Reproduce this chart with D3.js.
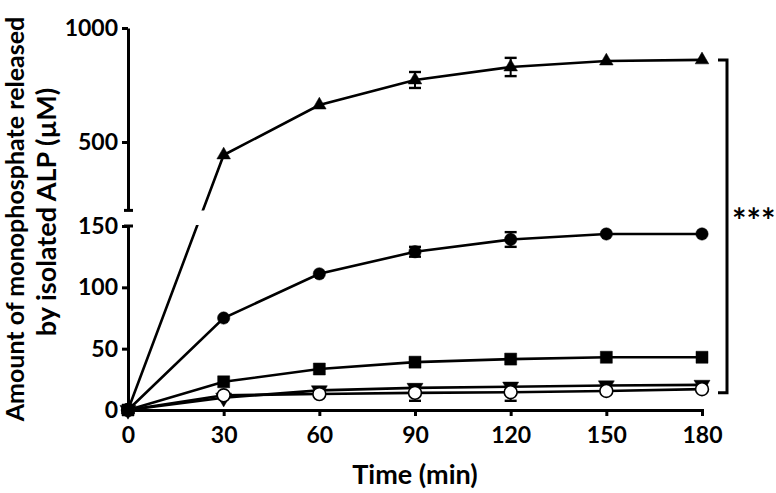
<!DOCTYPE html>
<html>
<head>
<meta charset="utf-8">
<script src="https://cdn.jsdelivr.net/npm/d3@7"></script>
<style>
  body { margin: 0; background: #fff; }
  text { font-family: Lato, "Open Sans", sans-serif; font-weight: bold; fill: #000; }
</style>
</head>
<body>
<script>
var svg_width = 776;
var svg_height = 493;

// data
var times = [0, 30, 60, 90, 120, 150, 180];
var xTicks = [0, 30, 60, 90, 120, 150, 180];
var upperTicks = [500, 1000];
var lowerTicks = [0, 50, 100, 150];

var triUp = [0, 443, 662, 772, 829, 855, 860];
var triUpErr = [0, 0, 0, 35, 40, 0, 0];
var circleFilled = [0, 75, 111, 129, 139, 143.5, 143.5];
var circleFilledErr = [0, 0, 0, 4, 6, 0, 0];
var squareFilled = [0, 23, 33.4, 39, 41.5, 43, 43];
var squareErr = [0, 0, 0, 0, 0, 0, 0];
var triDown = [0, 10, 16, 18, 19, 20, 20.5];
var triDownErr = [0, 0, 0, 0, 0, 0, 0];
var circleOpen = [0, 12, 13, 14, 14.5, 15.5, 17];
var circleOpenErr = [0, 0, 0, 6.5, 7, 0, 0];

var bracketRange = [860, 14];
var sigLabel = '***';

var svg = d3.select('body').append('svg')
            .attr('width', svg_width)
            .attr('height', svg_height);

var xscale = d3.scaleLinear().domain([0, 180]).range([128, 702]);
var yLow = d3.scaleLinear().domain([0, 150]).range([410, 226]);
var yHigh = d3.scaleLinear().domain([500, 1000]).range([142, 28]);
var breakValue = 200;
function y(v) { return v >= breakValue ? yHigh(v) : yLow(v); }

// clip the lines so they skip the axis break
var clip = svg.append('defs').append('clipPath').attr('id', 'brk');
clip.append('rect').attr('x', 0).attr('y', 0).attr('width', svg_width).attr('height', yHigh(breakValue));
clip.append('rect').attr('x', 0).attr('y', yLow(150) - 1).attr('width', svg_width).attr('height', svg_height);

// drawing order: open markers first so the filled ones sit on top at t = 0
var series = [
  {vals: triDown, err: triDownErr, sym: d3.symbolTriangle, size: 110, rot: 180, fill: '#000'},
  {vals: circleOpen, err: circleOpenErr, sym: d3.symbolCircle, size: 130, rot: 0, fill: '#fff'},
  {vals: triUp, err: triUpErr, sym: d3.symbolTriangle, size: 80, rot: 0, fill: '#000'},
  {vals: circleFilled, err: circleFilledErr, sym: d3.symbolCircle, size: 120, rot: 0, fill: '#000'},
  {vals: squareFilled, err: squareErr, sym: d3.symbolSquare, size: 144, rot: 0, fill: '#000'}
];

var line = d3.line().x(function(d, i) { return xscale(times[i]); }).y(function(d) { return y(d); });

series.forEach(function(s) {
  svg.append('path')
     .attr('d', line(s.vals))
     .attr('clip-path', 'url(#brk)')
     .attr('fill', 'none')
     .attr('stroke', '#000')
     .attr('stroke-width', 2.6);
});

series.forEach(function(s) {
  var g = svg.append('g');
  s.vals.forEach(function(v, i) {
    if (s.err[i] > 0) {
      var x = xscale(times[i]);
      var y1 = y(v + s.err[i]), y2 = y(v - s.err[i]);
      g.append('line').attr('x1', x).attr('x2', x).attr('y1', y1).attr('y2', y2)
       .attr('stroke', '#000').attr('stroke-width', 2);
      [y1, y2].forEach(function(yy) {
        g.append('line').attr('x1', x - 6).attr('x2', x + 6).attr('y1', yy).attr('y2', yy)
         .attr('stroke', '#000').attr('stroke-width', 2.4);
      });
    }
  });
  g.selectAll('path').data(s.vals).enter().append('path')
   .attr('d', d3.symbol().type(s.sym).size(s.size))
   .attr('transform', function(d, i) {
     return 'translate(' + xscale(times[i]) + ',' + y(d) + ') rotate(' + s.rot + ')';
   })
   .attr('fill', s.fill)
   .attr('stroke', '#000')
   .attr('stroke-width', s.fill === '#fff' ? 1.6 : 0.5);
});

// axes
function styleAxis(g) {
  g.selectAll('.domain').attr('stroke-width', 3).attr('stroke', '#000');
  g.selectAll('.tick line').attr('stroke-width', 3).attr('stroke', '#000');
  g.selectAll('.tick text').style('font-size', '23px');
}

var xaxis = d3.axisBottom(xscale).tickValues(xTicks).tickSize(6).tickSizeOuter(6).tickPadding(11);
svg.append('g').attr('transform', 'translate(0,' + yLow(0) + ')').call(xaxis).call(styleAxis);

var yaxisLow = d3.axisLeft(yLow).tickValues(lowerTicks).tickSize(6).tickSizeOuter(0).tickPadding(4)
                 .tickFormat(d3.format('d'));
svg.append('g').attr('transform', 'translate(' + xscale(0) + ',0)').call(yaxisLow).call(styleAxis);

var highScale = yHigh.copy().domain([breakValue, 1000]).range([yHigh(breakValue), yHigh(1000)]);
var yaxisHigh = d3.axisLeft(highScale).tickValues(upperTicks).tickSize(6).tickSizeOuter(0).tickPadding(4)
                  .tickFormat(d3.format('d'));
svg.append('g').attr('transform', 'translate(' + xscale(0) + ',0)').call(yaxisHigh).call(styleAxis);

// break caps
[yHigh(breakValue), yLow(150)].forEach(function(yy) {
  svg.append('line').attr('x1', xscale(0) - 4).attr('x2', xscale(0) + 5)
     .attr('y1', yy).attr('y2', yy).attr('stroke', '#000').attr('stroke-width', 3);
});

// significance bracket
var bx = 727;
svg.append('path')
   .attr('d', 'M' + (bx - 9) + ',' + y(bracketRange[0]) + 'H' + bx + 'V' + y(bracketRange[1]) + 'H' + (bx - 9))
   .attr('fill', 'none').attr('stroke', '#000').attr('stroke-width', 3);
svg.append('text').attr('x', 732).attr('y', 233).style('font-size', '34px').text(sigLabel);

// titles
svg.append('text').attr('x', 415).attr('y', 484).attr('text-anchor', 'middle')
   .style('font-size', '27px').text('Time (min)');
svg.append('text').attr('transform', 'translate(24,219) rotate(-90)').attr('text-anchor', 'middle')
   .style('font-size', '25px').text('Amount of monophosphate released');
svg.append('text').attr('transform', 'translate(56,212) rotate(-90)').attr('text-anchor', 'middle')
   .style('font-size', '27px').text('by isolated ALP (\u00B5M)');
</script>
</body>
</html>
